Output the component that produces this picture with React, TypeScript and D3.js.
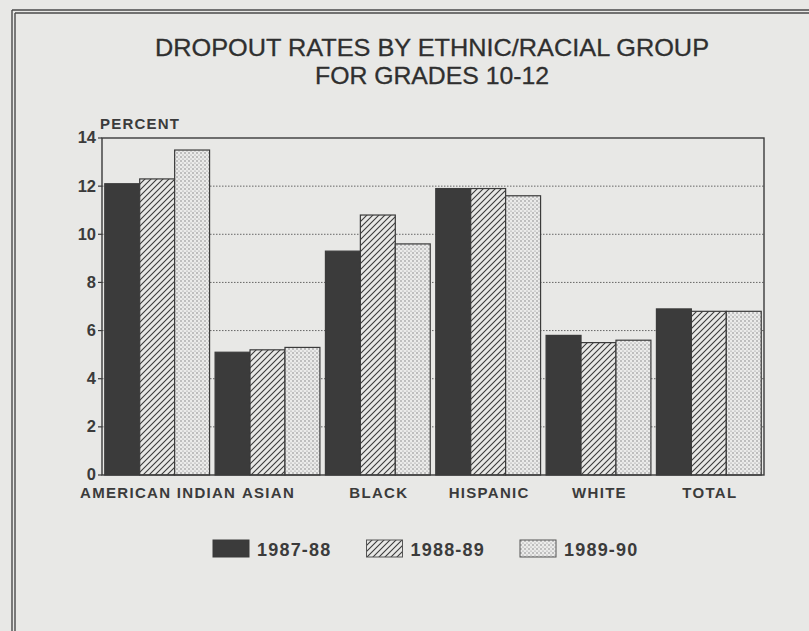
import React from "react";
import * as d3 from "d3";

const categories = ["AMERICAN INDIAN", "ASIAN", "BLACK", "HISPANIC", "WHITE", "TOTAL"];
const seriesNames = ["1987-88", "1988-89", "1989-90"];
const values1987 = [12.1, 5.1, 9.3, 11.9, 5.8, 6.9];
const values1988 = [12.3, 5.2, 10.8, 11.9, 5.5, 6.8];
const values1989 = [13.5, 5.3, 9.6, 11.6, 5.6, 6.8];
const yTicks = [0, 2, 4, 6, 8, 10, 12, 14];
const titleLines = ["DROPOUT RATES BY ETHNIC/RACIAL GROUP", "FOR GRADES 10-12"];

const W = 809;
const H = 631;
const PAPER = "#e8e8e6";
const INK = "#3b3b3b";
const FONT = "'Liberation Sans', Arial, Helvetica, sans-serif";

export default function App() {
  const plot = { left: 102, right: 764, top: 138, bottom: 475 };
  const x = d3
    .scaleBand<string>()
    .domain(categories)
    .range([plot.left, plot.right])
    .paddingInner(0.05)
    .paddingOuter(0.025);
  const xs = d3.scaleBand<string>().domain(seriesNames).range([0, x.bandwidth()]).padding(0);
  const y = d3.scaleLinear().domain([0, 14]).range([plot.bottom, plot.top]);
  const series = [values1987, values1988, values1989];
  const fills = [INK, "url(#hatch)", "url(#dots)"];

  const legendX = d3.scaleLinear().domain([0, 1]).range([213, 366.5]);

  return (
    <svg
      width={W}
      height={H}
      viewBox={`0 0 ${W} ${H}`}
      style={{ position: "absolute", left: 0, top: 0, background: PAPER }}
      fontFamily={FONT}
    >
      <defs>
        <pattern id="hatch" patternUnits="userSpaceOnUse" width={6} height={6}>
          <rect width={6} height={6} fill={PAPER} />
          <path d="M-1,1 l2,-2 M0,6 l6,-6 M5,7 l2,-2" stroke={INK} strokeWidth={1.1} />
        </pattern>
        <pattern id="dots" patternUnits="userSpaceOnUse" width={4} height={4}>
          <rect width={4} height={4} fill="#ebebea" />
          <circle cx={1} cy={1} r={0.7} fill="#707070" />
          <circle cx={3} cy={3} r={0.6} fill="#858585" />
        </pattern>
      </defs>

      <rect x={0} y={0} width={W} height={H} fill={PAPER} />

      {/* outer double frame */}
      <g stroke="#4a4a4a" strokeWidth={1.4} fill="none">
        <line x1={12} y1={10} x2={W} y2={10} />
        <line x1={15} y1={13} x2={W} y2={13} />
        <line x1={12} y1={10} x2={12} y2={H} />
        <line x1={15} y1={13} x2={15} y2={H} />
      </g>

      {/* title */}
      <g fill="#2f2f2f" fontSize={24} textAnchor="middle" stroke="#2f2f2f" strokeWidth={0.3}>
        <text x={432} y={56} textLength={554} lengthAdjust="spacingAndGlyphs">
          {titleLines[0]}
        </text>
        <text x={432} y={84} textLength={234} lengthAdjust="spacingAndGlyphs">
          {titleLines[1]}
        </text>
      </g>

      {/* PERCENT label */}
      <text x={100} y={129} fontSize={15} fontWeight="bold" fill={INK} letterSpacing={1.2}>
        PERCENT
      </text>

      {/* gridlines */}
      <g stroke="#666" strokeWidth={1} strokeDasharray="1.5,1.5">
        {yTicks
          .filter((t) => t > 0 && t < 14)
          .map((t) => (
            <line key={t} x1={plot.left} x2={plot.right} y1={y(t)} y2={y(t)} />
          ))}
      </g>

      {/* bars */}
      {categories.map((c, ci) => (
        <g key={c}>
          {series.map((vals, si) => {
            const bx = (x(c) ?? 0) + (xs(seriesNames[si]) ?? 0);
            return (
              <rect
                key={si}
                x={bx}
                y={y(vals[ci])}
                width={xs.bandwidth()}
                height={y(0) - y(vals[ci])}
                fill={fills[si]}
                stroke={INK}
                strokeWidth={1.2}
              />
            );
          })}
        </g>
      ))}

      {/* plot frame */}
      <rect
        x={plot.left}
        y={plot.top}
        width={plot.right - plot.left}
        height={plot.bottom - plot.top}
        fill="none"
        stroke={INK}
        strokeWidth={1.4}
      />

      {/* y ticks */}
      <g fill={INK} fontSize={16.5} fontWeight="bold" textAnchor="end">
        {yTicks.map((t) => (
          <g key={t}>
            <line x1={plot.left - 4} x2={plot.left} y1={y(t)} y2={y(t)} stroke={INK} strokeWidth={1.2} />
            <text x={96} y={y(t)} dy="0.33em">
              {t}
            </text>
          </g>
        ))}
      </g>

      {/* x labels */}
      <g fill={INK} fontSize={15} fontWeight="bold" textAnchor="middle" letterSpacing={1.3}>
        {categories.map((c) => (
          <text key={c} x={(x(c) ?? 0) + x.bandwidth() / 2 + 1} y={498}>
            {c}
          </text>
        ))}
      </g>

      {/* legend */}
      <g>
        {seriesNames.map((s, i) => (
          <g key={s}>
            <rect
              x={legendX(i)}
              y={540}
              width={36}
              height={17}
              fill={fills[i]}
              stroke={i === 0 ? INK : "#555"}
              strokeWidth={1}
            />
            <text
              x={legendX(i) + 44}
              y={556}
              fontSize={18}
              fontWeight="bold"
              fill={INK}
              letterSpacing={1.2}
            >
              {s}
            </text>
          </g>
        ))}
      </g>
    </svg>
  );
}
